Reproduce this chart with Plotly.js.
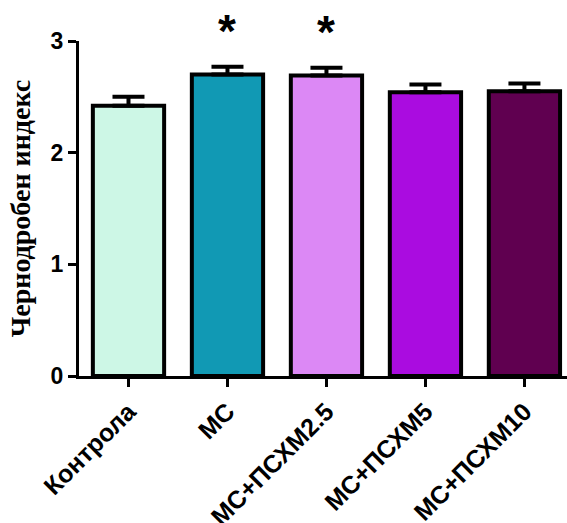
<!DOCTYPE html>
<html>
<head>
<meta charset="utf-8">
<script src="https://cdn.plot.ly/plotly-3.0.1.min.js"></script>
<style>html,body{margin:0;padding:0;background:#fff;}#chart{width:567px;height:523px;}</style>
</head>
<body>
<div id="chart"></div>
<script>
const categories = ["Контрола", "МС", "МС+ПСХМ2.5", "МС+ПСХМ5", "МС+ПСХМ10"];
const values = [2.42, 2.70, 2.69, 2.54, 2.55];
const errors = [0.08, 0.07, 0.07, 0.07, 0.07];
const colors = ["#cdf7e6", "#1199b4", "#dc88f5", "#aa0ce0", "#600050"];
const significant = [false, true, true, false, false];
const yTicks = [0, 1, 2, 3];

const trace = {
  type: "bar",
  x: categories,
  y: values,
  width: 0.72,
  marker: { color: colors, line: { color: "#000", width: 4 } },
  error_y: {
    type: "data",
    symmetric: false,
    array: errors,
    arrayminus: errors.map(() => 0),
    color: "#000",
    thickness: 4,
    width: 16
  },
  hoverinfo: "none"
};

const annotations = [];
categories.forEach((c, i) => {
  if (significant[i]) {
    annotations.push({
      x: c, y: values[i] + errors[i], yref: "y", xref: "x",
      yshift: 36, text: "*", showarrow: false,
      font: { family: "Liberation Sans, Arial, sans-serif", size: 46, color: "#000", weight: "bold" }
    });
  }
});

const layout = {
  width: 567, height: 523,
  margin: { l: 79, r: 0, t: 41, b: 147 },
  paper_bgcolor: "#fff", plot_bgcolor: "#fff",
  showlegend: false,
  bargap: 0.28,
  xaxis: {
    range: [-0.5, 4.43],
    showline: true, linecolor: "#000", linewidth: 3,
    ticks: "outside", ticklen: 8, tickwidth: 3, tickcolor: "#000",
    tickangle: -45,
    tickfont: { family: "Liberation Sans, Arial, sans-serif", size: 25, color: "#000", weight: "bold" },
    showgrid: false, zeroline: false, fixedrange: true, automargin: false
  },
  yaxis: {
    range: [0, 3],
    tickvals: yTicks,
    ticktext: yTicks.map(String),
    showline: true, linecolor: "#000", linewidth: 3,
    ticks: "outside", ticklen: 8, tickwidth: 3, tickcolor: "#000",
    tickfont: { family: "Liberation Sans, Arial, sans-serif", size: 23, color: "#000", weight: "bold" },
    showgrid: false, zeroline: false, fixedrange: true, automargin: false,
    title: { text: "Чернодробен индекс", standoff: 12,
      font: { family: "Liberation Serif, Times New Roman, serif", size: 28, color: "#000", weight: "bold" } }
  },
  annotations: annotations
};

Plotly.newPlot("chart", [trace], layout, { displayModeBar: false, staticPlot: true });
</script>
</body>
</html>
